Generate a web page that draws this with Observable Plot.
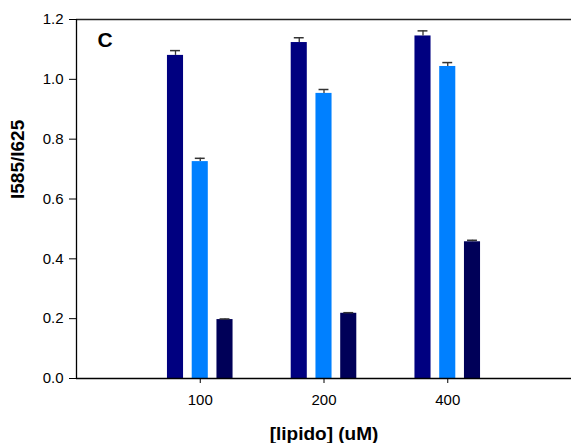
<!DOCTYPE html>
<html>
<head>
<meta charset="utf-8">
<script src="https://cdn.jsdelivr.net/npm/d3@7"></script>
<script src="https://cdn.jsdelivr.net/npm/@observablehq/plot@0.6"></script>
<style>
  html, body { margin: 0; padding: 0; background: #fff; }
</style>
</head>
<body>
<div id="chart"></div>
<script>
// Data
const concentrations = ["100", "200", "400"];
const seriesNames = ["A", "B", "C"];
const seriesA = [1.080, 1.123, 1.145];
const errA    = [0.016, 0.016, 0.017];
const seriesB = [0.725, 0.953, 1.043];
const errB    = [0.011, 0.013, 0.013];
const seriesC = [0.197, 0.218, 0.457];
const errC    = [0.002, 0.002, 0.005];
const yTicks = [0, 0.2, 0.4, 0.6, 0.8, 1.0, 1.2];
const xTicks = [1, 2, 3];

const colors = ["#000080", "#0080FF", "#000058"];

const values = [seriesA, seriesB, seriesC];
const errors = [errA, errB, errC];
const data = [];
concentrations.forEach((c, g) => {
  seriesNames.forEach((s, si) => {
    data.push({conc: c, g: g + 1, series: s, si, v: values[si][g], e: errors[si][g]});
  });
});

// layout within a group (in x-scale units)
const dodge = 0.2, halfW = 0.065, capHalf = 0.04;
const cx = d => d.g + (d.si - 1) * dodge;

const font = "'Liberation Sans', Arial, Helvetica, sans-serif";

const chart = Plot.plot({
  width: 572,
  height: 443,
  marginLeft: 76,
  marginRight: 1,
  marginTop: 19,
  marginBottom: 65,
  style: {fontFamily: font, fontSize: "15px", color: "#000", background: "#fff"},
  x: {domain: [0, 4]},
  y: {domain: [0, 1.2]},
  color: {domain: seriesNames, range: colors},
  marks: [
    Plot.rectY(data, {
      x1: d => cx(d) - halfW,
      x2: d => cx(d) + halfW,
      y1: 0,
      y2: "v",
      fill: "series"
    }),
    Plot.ruleX(data, {x: cx, y1: "v", y2: d => d.v + d.e, stroke: "#333", strokeWidth: 1.3}),
    Plot.ruleY(data, {y: d => d.v + d.e, x1: d => cx(d) - capHalf, x2: d => cx(d) + capHalf, stroke: "#333", strokeWidth: 1.5}),
    Plot.ruleY([0], {stroke: "#000", strokeWidth: 1.3}),
    Plot.ruleY([1.2], {stroke: "#222", strokeWidth: 1.3}),
    Plot.ruleX([0], {stroke: "#000", strokeWidth: 1.3}),
    Plot.axisY({
      ticks: yTicks,
      tickFormat: () => "",
      tickSize: 7,
      label: null
    }),
    Plot.axisX({
      ticks: xTicks,
      tickFormat: () => "",
      tickSize: 5,
      label: null
    }),
    // tick labels
    Plot.text(yTicks, {
      x: 0,
      y: d => d,
      text: d => d3.format(".1f")(d),
      textAnchor: "end",
      dx: -13,
      fontSize: 15
    }),
    Plot.text(xTicks, {
      x: d => d,
      y: 0,
      text: d => concentrations[d - 1],
      dy: 22,
      lineAnchor: "middle",
      fontSize: 15
    }),
    Plot.text(["C"], {
      frameAnchor: "top-left",
      dx: 21,
      dy: 21,
      textAnchor: "start",
      lineAnchor: "middle",
      fontSize: 21,
      fontWeight: "bold"
    }),
    Plot.text(["[lipido] (uM)"], {
      frameAnchor: "bottom",
      dy: 55,
      lineAnchor: "middle",
      fontSize: 19,
      fontWeight: "bold"
    }),
    Plot.text(["I585/I625"], {
      frameAnchor: "left",
      dx: -59,
      rotate: -90,
      lineAnchor: "middle",
      fontSize: 19,
      fontWeight: "bold"
    })
  ]
});
document.getElementById("chart").appendChild(chart);
</script>
</body>
</html>
